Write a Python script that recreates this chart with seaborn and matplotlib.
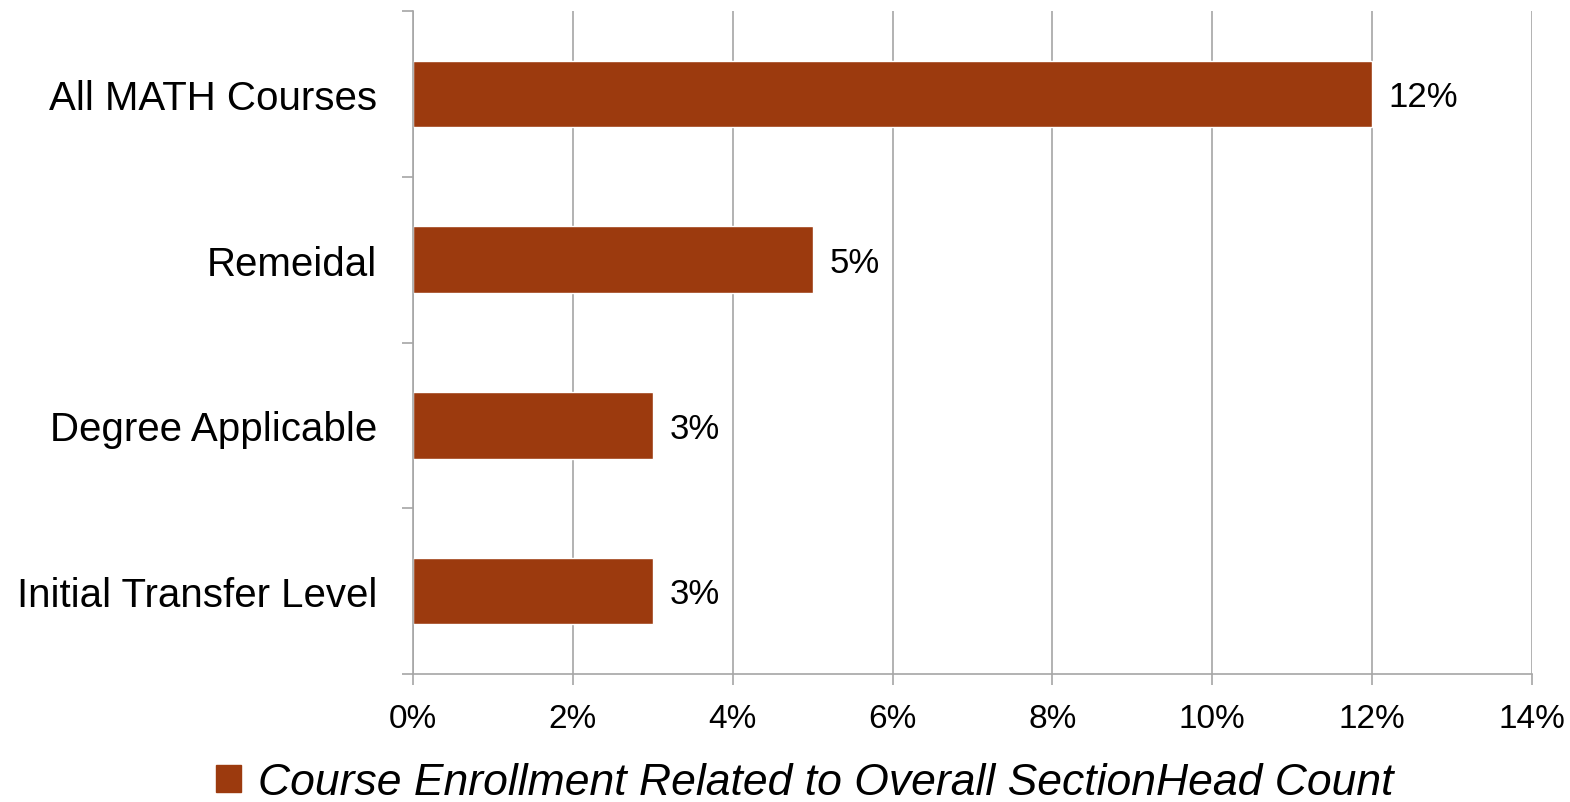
import matplotlib
matplotlib.use("Agg")
import matplotlib.pyplot as plt
import seaborn as sns
import pandas as pd
from matplotlib.patches import Patch
from matplotlib.ticker import FuncFormatter, FixedLocator

categories = ["All MATH Courses", "Remeidal", "Degree Applicable", "Initial Transfer Level"]
values = [12, 5, 3, 3]
value_labels = ["12%", "5%", "3%", "3%"]
x_ticks = [0, 2, 4, 6, 8, 10, 12, 14]
legend_label = "Course Enrollment Related to Overall SectionHead Count"

sns.set_theme(style="white")
plt.rcParams["font.family"] = ["Liberation Sans", "DejaVu Sans"]

color = "#9C3A0E"
grid_c = "#A6A6A6"

df = pd.DataFrame({"cat": categories, "val": values})

fig = plt.figure(figsize=(15.70, 8.03), dpi=100)
ax = fig.add_axes([413/1570, 1 - 675/803, (1532-413)/1570, (675-12)/803])

sns.barplot(data=df, y="cat", x="val", orient="h", color=color, width=0.4,
            saturation=1, ax=ax)

ax.set_xlim(0, 14)
ax.set_ylim(3.5, -0.5)
ax.set_xticks(x_ticks)
ax.xaxis.set_major_formatter(FuncFormatter(lambda v, p: f"{int(v)}%"))
ax.grid(axis="x", color=grid_c, linewidth=1.2)
ax.set_axisbelow(True)
ax.set_xlabel("")
ax.set_ylabel("")

for s in ["top", "right"]:
    ax.spines[s].set_visible(False)
for s in ["left", "bottom"]:
    ax.spines[s].set_color(grid_c)
    ax.spines[s].set_linewidth(1.2)

ax.tick_params(axis="x", which="major", bottom=True, length=8, width=1.2, color=grid_c,
               labelsize=24, pad=13, labelcolor="black")
ax.tick_params(axis="y", which="major", left=False, length=0, labelsize=29, pad=26,
               labelcolor="black")
ax.yaxis.set_minor_locator(FixedLocator([-0.5, 0.5, 1.5, 2.5, 3.5]))
ax.tick_params(axis="y", which="minor", left=True, length=8, width=1.2, color=grid_c)

for i, (v, lab) in enumerate(zip(values, value_labels)):
    ax.annotate(lab, xy=(v, i), xytext=(12, -2), textcoords="offset points",
                va="center", ha="left", fontsize=25, color="black")

handles = [Patch(facecolor=color, edgecolor=color)]
fig.legend(handles, [legend_label], loc="center", bbox_to_anchor=(805/1570, 1 - 784/803),
           frameon=False, prop={"size": 32, "style": "italic"}, labelcolor="black",
           handlelength=0.55, handleheight=0.55, handletextpad=0.4)

fig.savefig("out.png", dpi=100)
